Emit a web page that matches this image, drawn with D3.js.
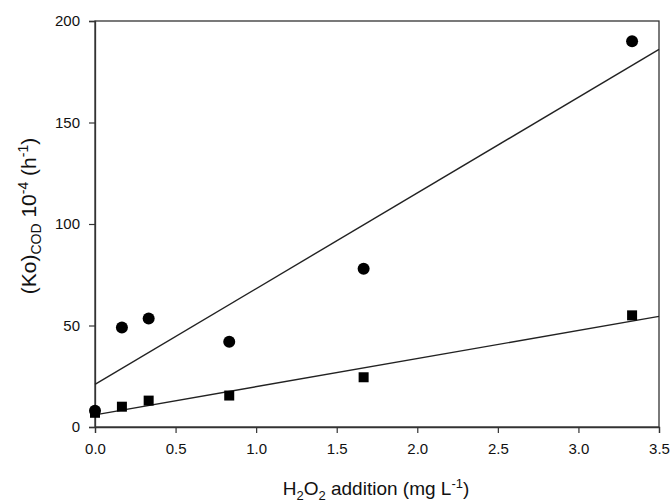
<!DOCTYPE html>
<html><head><meta charset="utf-8">
<script src="https://cdn.jsdelivr.net/npm/d3@7"></script>
<style>body{margin:0;background:#fff}svg{display:block}text{font-family:"Liberation Sans",Arial,sans-serif;fill:#111}</style>
</head><body><svg id="c" width="671" height="504"></svg>
<script>
const xDose = [0, 0.167, 0.333, 0.833, 1.667, 3.333];
const circleVals = [8, 49, 53.5, 42, 78, 190];
const squareVals = [7, 10, 13, 15.5, 24.5, 55];
const circleFit = [[0, 21], [3.5, 186]];
const squareFit = [[0, 6], [3.5, 54.5]];
const xTicks = [0, 0.5, 1.0, 1.5, 2.0, 2.5, 3.0, 3.5];
const yTicks = [0, 50, 100, 150, 200];

const svg = d3.select("#c");
const L = 95, R = 659, T = 21, B = 427;
const x = d3.scaleLinear().domain([0, 3.5]).range([L, R]);
const y = d3.scaleLinear().domain([0, 200]).range([B, T]);
const axisColor = "#333";

svg.append("rect").attr("x", L).attr("y", T).attr("width", R - L).attr("height", B - T)
  .attr("fill", "none").attr("stroke", axisColor).attr("stroke-width", 1.3);

const gx = svg.append("g").attr("transform", `translate(0,${B})`)
  .call(d3.axisBottom(x).tickValues(xTicks).tickFormat(d3.format(".1f")).tickSizeOuter(0).tickSize(6).tickPadding(10));
const gy = svg.append("g").attr("transform", `translate(${L},0)`)
  .call(d3.axisLeft(y).tickValues(yTicks).tickSizeOuter(0).tickSize(6).tickPadding(9));
[gx, gy].forEach(g => {
  g.select(".domain").attr("stroke", axisColor).attr("stroke-width", 1.3);
  g.selectAll(".tick line").attr("stroke", axisColor).attr("stroke-width", 1.2);
  g.selectAll(".tick text").attr("font-size", 15).attr("fill", "#222")
    .attr("font-family", "'Liberation Sans', Arial, sans-serif");
});

const line = d3.line().x(d => x(d[0])).y(d => y(d[1]));
[circleFit, squareFit].forEach(f => {
  svg.append("path").attr("d", line(f)).attr("fill", "none").attr("stroke", "#222").attr("stroke-width", 1.4);
});

svg.append("g").selectAll("circle").data(xDose.map((d, i) => [d, circleVals[i]])).join("circle")
  .attr("cx", d => x(d[0])).attr("cy", d => y(d[1])).attr("r", 6).attr("fill", "#000");
const s = 10;
svg.append("g").selectAll("rect").data(xDose.map((d, i) => [d, squareVals[i]])).join("rect")
  .attr("x", d => x(d[0]) - s / 2).attr("y", d => y(d[1]) - s / 2).attr("width", s).attr("height", s).attr("fill", "#000");

const xt = svg.append("text").attr("x", 376).attr("y", 495).attr("text-anchor", "middle").attr("font-size", 19);
xt.append("tspan").text("H");
xt.append("tspan").text("2").attr("font-size", 13).attr("dy", 5);
xt.append("tspan").text("O").attr("dy", -5);
xt.append("tspan").text("2").attr("font-size", 13).attr("dy", 5);
xt.append("tspan").text(" addition (mg L").attr("dy", -5);
xt.append("tspan").text("-1").attr("font-size", 13).attr("dy", -7);
xt.append("tspan").text(")").attr("dy", 7);

const yt = svg.append("text").attr("transform", "translate(36,216) rotate(-90)").attr("text-anchor", "middle").attr("font-size", 21);
yt.append("tspan").text("(Ko)");
yt.append("tspan").text("COD").attr("font-size", 14).attr("dy", 5);
yt.append("tspan").text(" 10").attr("dy", -5);
yt.append("tspan").text("-4").attr("font-size", 14).attr("dy", -8);
yt.append("tspan").text(" (h").attr("dy", 8);
yt.append("tspan").text("-1").attr("font-size", 14).attr("dy", -8);
yt.append("tspan").text(")").attr("dy", 8);
</script></body></html>
